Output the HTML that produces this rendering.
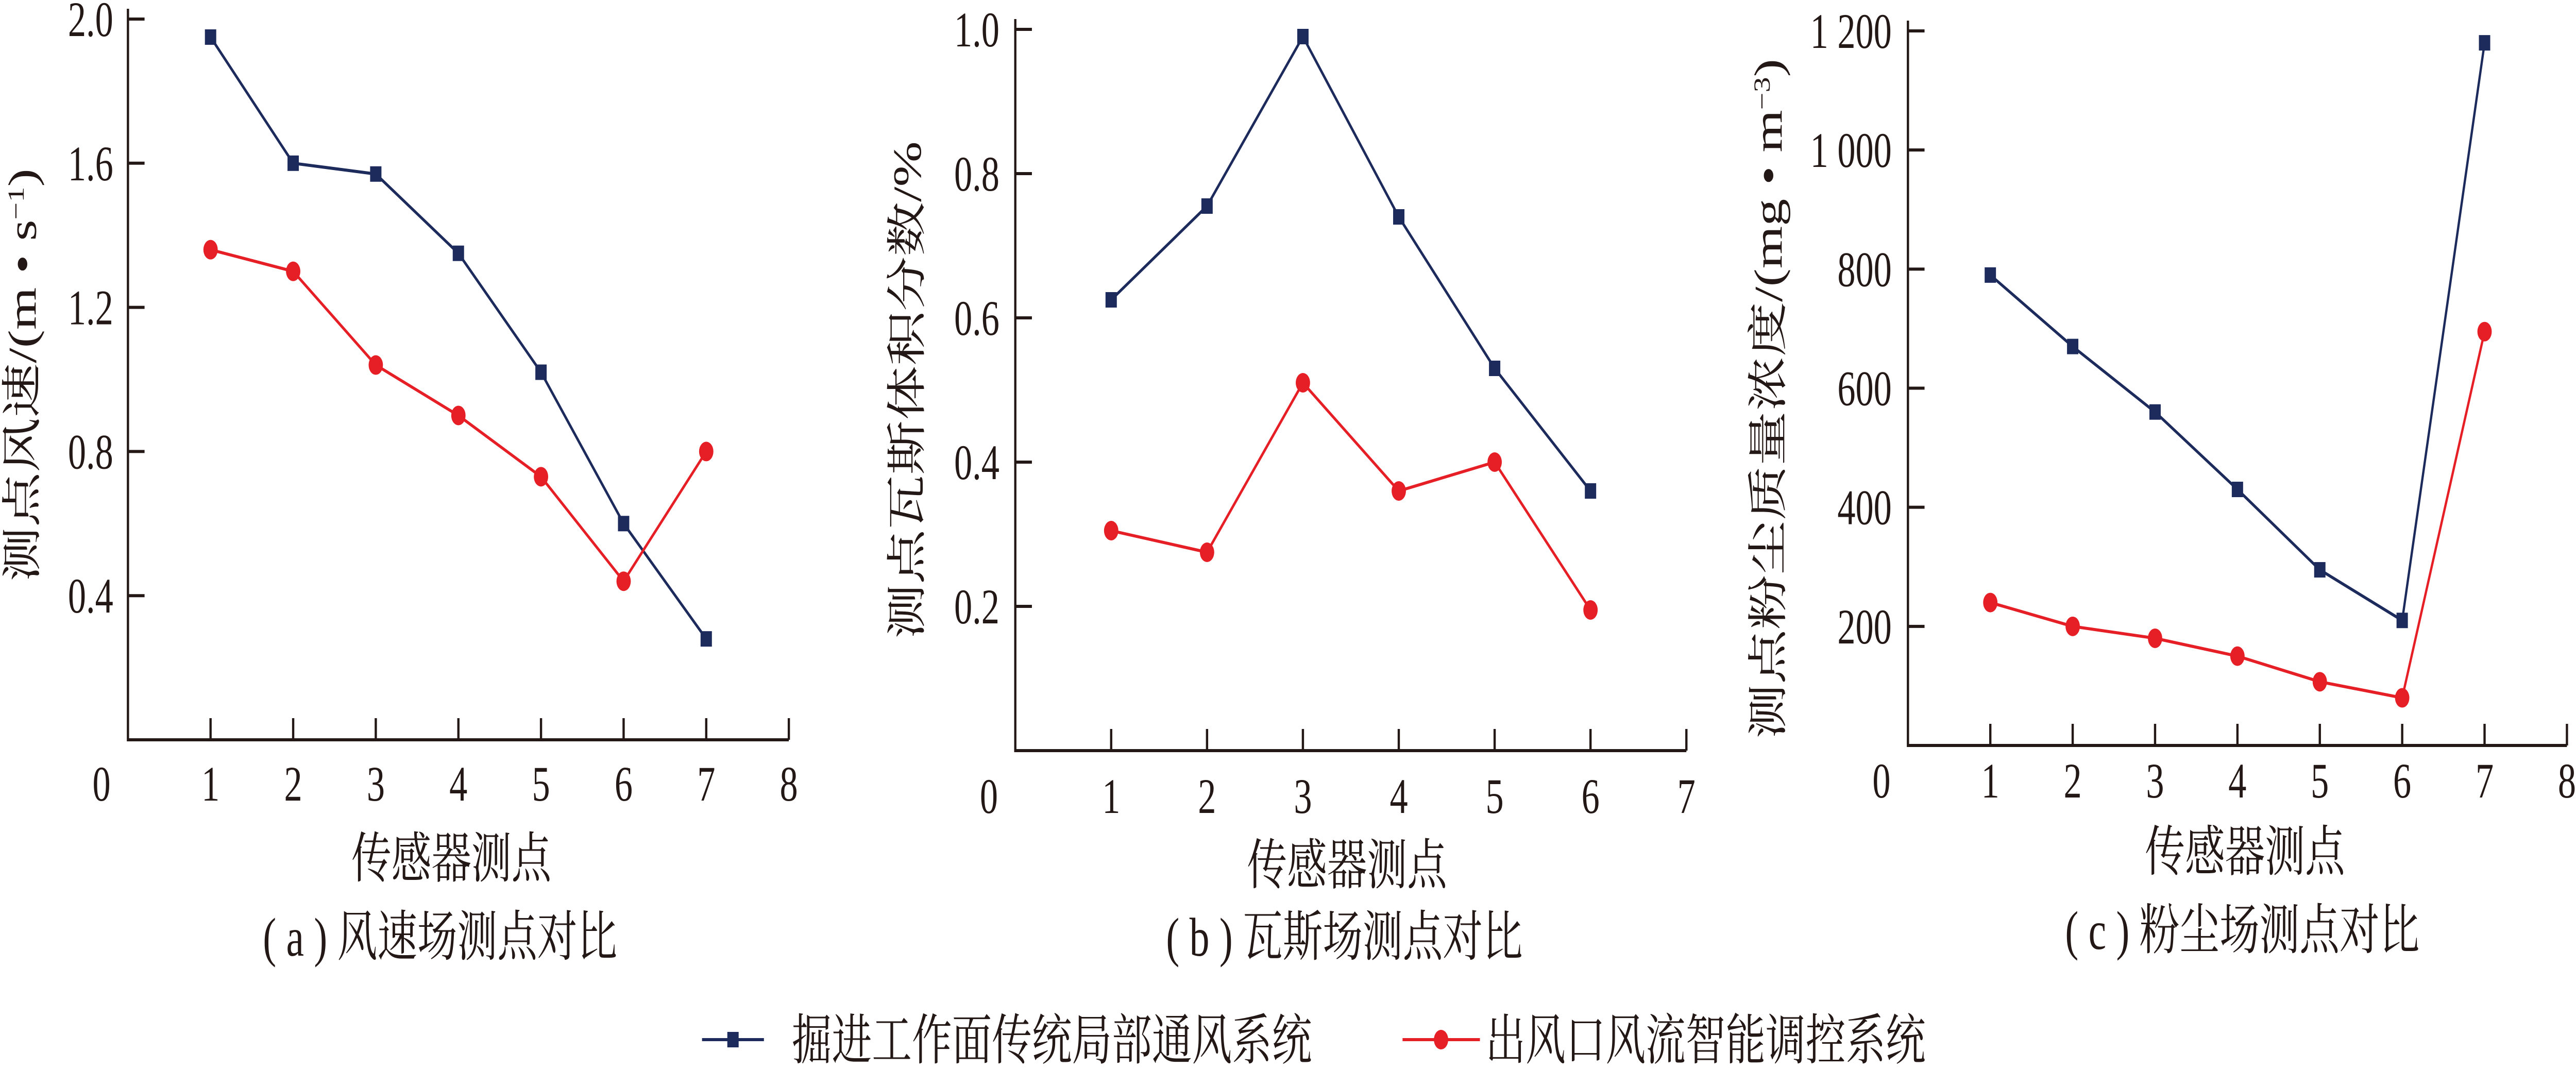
<!DOCTYPE html>
<html><head><meta charset="utf-8"><style>
html,body{margin:0;padding:0;background:#fff;width:100vw;height:100vh;overflow:hidden;}
svg{display:block;width:100vw;height:100vh;}
text{fill:#231815;}
.num{font-family:"Liberation Serif","DejaVu Serif",serif;font-size:96px;}
.cjk{font-family:"Liberation Serif","Noto Serif CJK SC",serif;font-size:106px;}
</style></head><body>
<svg id="chart" viewBox="0 0 6825 2075" preserveAspectRatio="none" xmlns="http://www.w3.org/2000/svg">
<g id="legend">
 <g>
  <line x1="1860" y1="2018" x2="2024" y2="2018" stroke="#1c2a5c" stroke-width="6"/>
  <rect x="1927" y="2003" width="30" height="30" fill="#1c2a5c"/>
  <text class="cjk" font-family="Liberation Serif, Noto Serif CJK SC, serif" x="2098" y="2056" font-size="110">掘进工作面传统局部通风系统</text>
 </g>
 <g>
  <line x1="3716" y1="2018" x2="3921" y2="2018" stroke="#e61e25" stroke-width="6"/>
  <circle cx="3818" cy="2018" r="19" fill="#e61e25"/>
  <text class="cjk" font-family="Liberation Serif, Noto Serif CJK SC, serif" x="3936" y="2056" font-size="110">出风口风流智能调控系统</text>
 </g>
</g>
</svg>
<script>
// Panel (a) wind speed
const catsA = [1,2,3,4,5,6,7];
const blueA = [1.95,1.60,1.57,1.35,1.02,0.60,0.28];
const redA = [1.36,1.30,1.04,0.90,0.73,0.44,0.80];
const yTicksA = [0.4,0.8,1.2,1.6,2.0];
const yLabelsA = ["0.4","0.8","1.2","1.6","2.0"];
const xTicksA = [1,2,3,4,5,6,7,8];
// Panel (b) gas
const catsB = [1,2,3,4,5,6];
const blueB = [0.625,0.755,0.99,0.74,0.53,0.36];
const redB = [0.305,0.275,0.51,0.36,0.40,0.195];
const yTicksB = [0.2,0.4,0.6,0.8,1.0];
const yLabelsB = ["0.2","0.4","0.6","0.8","1.0"];
const xTicksB = [1,2,3,4,5,6,7];
// Panel (c) dust
const catsC = [1,2,3,4,5,6,7];
const blueC = [790,670,560,430,295,210,1180];
const redC = [240,200,180,150,107,80,695];
const yTicksC = [200,400,600,800,1000,1200];
const yLabelsC = ["200","400","600","800","1 000","1 200"];
const xTicksC = [1,2,3,4,5,6,7,8];

const NS = "http://www.w3.org/2000/svg";
const svg = document.getElementById('chart');
const SERIF = 'Liberation Serif, DejaVu Serif, serif';
const CJK = 'Liberation Serif, Noto Serif CJK SC, serif';
function mk(tag, attrs, parent){
  const e = document.createElementNS(NS, tag);
  for (const k in attrs) e.setAttribute(k, attrs[k]);
  parent.appendChild(e);
  return e;
}
function panel(p){
  const g = mk('g', {}, svg);
  
  
  const sx = v => p.x0 + v * (p.x1 - p.x0) / p.xmax;
  const sy = v => p.y0 - v * (p.y0 - p.ytop) / p.ymax;
  const ax = mk('path', {d:`M${p.x0},${p.ytop-20} L${p.x0},${p.y0} L${p.x1},${p.y0}`, fill:'none', stroke:'#231815', 'stroke-width':6}, g);
  
  
  p.yTicks.forEach((v,i)=>{
    const y = sy(v);
    const t = mk('line', {x1:p.x0, y1:y, x2:p.x0+44, y2:y, stroke:'#231815','stroke-width':6}, g);
    
    
    const l = mk('text', {x:p.ylabR, y:y+33, 'text-anchor':'end', class:'num', 'font-family':SERIF, 'font-size':96}, g);
    l.textContent = p.yLabels[i];
    
    
  });
  const z = mk('text', {x:p.x0-70, y:p.xlabY+33, 'text-anchor':'middle', class:'num', 'font-family':SERIF, 'font-size':96}, g);
  z.textContent = '0';
  
  
  p.xTicks.forEach(v=>{
    const x = sx(v);
    const t = mk('line', {x1:x, y1:p.y0, x2:x, y2:p.y0-42, stroke:'#231815','stroke-width':6}, g);
    
    
    const l = mk('text', {x:x, y:p.xlabY+33, 'text-anchor':'middle', class:'num', 'font-family':SERIF, 'font-size':96}, g);
    l.textContent = String(v);
    
    
  });
  [[p.blue,'#1c2a5c','sq','series-traditional'],[p.red,'#e61e25','ci','series-smart']].forEach(s=>{
    const sg = mk('g', {}, g);
    
    
    const pts = p.cats.map((c,i)=>sx(c)+','+sy(s[0][i])).join(' ');
    const pl = mk('polyline', {points:pts, fill:'none', stroke:s[1], 'stroke-width':6}, sg);
    
    
    p.cats.forEach((c,i)=>{
      const x = sx(c), y = sy(s[0][i]);
      let m;
      if (s[2]==='sq') m = mk('rect', {x:x-15, y:y-15, width:30, height:30, fill:s[1]}, sg);
      else m = mk('circle', {cx:x, cy:y, r:19, fill:s[1]}, sg);
      
      
    });
  });
  const xl = mk('text', {x:p.xtc, y:p.xtY+36, 'text-anchor':'middle', class:'cjk', 'font-family':CJK, 'font-size':106}, g);
  xl.textContent = '传感器测点';
  
  
  const cap = mk('text', {x:p.capX, y:p.capY+36, 'text-anchor':'middle', class:'cjk', 'font-family':CJK, 'font-size':106}, g);
  cap.textContent = p.caption;
  
  
  const yt = mk('text', {x:0, y:0, 'text-anchor':'middle', class:'cjk', 'font-family':CJK, 'font-size':106, transform:`translate(${p.ytX+36},${p.ytY}) rotate(-90)`}, g);
  yt.innerHTML = p.ytitle;
  
  
}
panel({name:'panel-a-wind-speed', x0:339, x1:2090, xmax:8, y0:1436, ytop:37, ymax:2.0,
  cats:catsA, blue:blueA, red:redA, yTicks:yTicksA, yLabels:yLabelsA, xTicks:xTicksA,
  ylabR:300, xlabY:1521, xtc:1196, xtY:1667, capX:1166, capY:1819, caption:'( a ) 风速场测点对比',
  ytX:59, ytY:728, ytitle:'测点风速/(m • s<tspan baseline-shift="super" font-size="60">−1</tspan>)'});
panel({name:'panel-b-gas', x0:2690, x1:4468, xmax:7, y0:1457, ytop:57, ymax:1.0,
  cats:catsB, blue:blueB, red:redB, yTicks:yTicksB, yLabels:yLabelsB, xTicks:xTicksB,
  ylabR:2648, xlabY:1545, xtc:3569, xtY:1680, capX:3562, capY:1819, caption:'( b ) 瓦斯场测点对比',
  ytX:2403, ytY:757, ytitle:'测点瓦斯体积分数/%'});
panel({name:'panel-c-dust', x0:5055, x1:6801, xmax:8, y0:1447, ytop:60, ymax:1200,
  cats:catsC, blue:blueC, red:redC, yTicks:yTicksC, yLabels:yLabelsC, xTicks:xTicksC,
  ylabR:5012, xlabY:1515, xtc:5948, xtY:1654, capX:5941, capY:1806, caption:'( c ) 粉尘场测点对比',
  ytX:4685, ytY:774, ytitle:'测点粉尘质量浓度/(mg • m<tspan baseline-shift="super" font-size="60">−3</tspan>)'});
</script>
</body></html>
